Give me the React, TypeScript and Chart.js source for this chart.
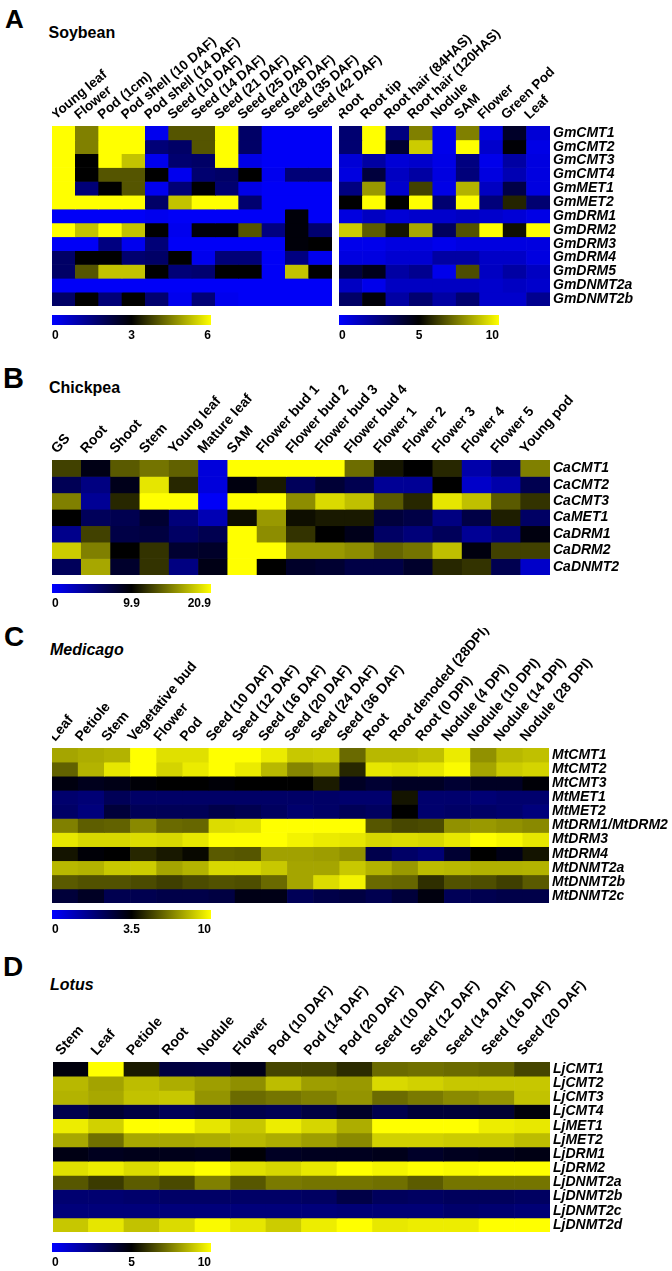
import React, { useEffect, useRef } from 'react';
import { Chart, registerables } from 'chart.js';

Chart.register(...registerables);

const FONT = '"Liberation Sans", Arial, Helvetica, sans-serif';

// ---------- Panel A: Soybean ----------
const soyTissuesLeft = ['Young leaf', 'Flower', 'Pod (1cm)', 'Pod shell (10 DAF)', 'Pod shell (14 DAF)', 'Seed (10 DAF)', 'Seed (14 DAF)', 'Seed (21 DAF)', 'Seed (25 DAF)', 'Seed (28 DAF)', 'Seed (35 DAF)', 'Seed (42 DAF)'];
const soyTissuesRight = ['Root', 'Root tip', 'Root hair (84HAS)', 'Root hair (120HAS)', 'Nodule', 'SAM', 'Flower', 'Green Pod', 'Leaf'];
const soyGenes = ['GmCMT1', 'GmCMT2', 'GmCMT3', 'GmCMT4', 'GmMET1', 'GmMET2', 'GmDRM1', 'GmDRM2', 'GmDRM3', 'GmDRM4', 'GmDRM5', 'GmDNMT2a', 'GmDNMT2b'];
const soyRangeLeft = [0, 3, 6];
const soyScaleLeft = ['0', '3', '6'];
const soyRangeRight = [0, 5, 10];
const soyScaleRight = ['0', '5', '10'];
const soyValuesLeft = [
  [6, 4.5, 6, 6, 0.2, 4.0, 4.0, 6, 1.8, 0.1, 0.1, 0.1],
  [6, 4.5, 6, 6, 1.6, 1.8, 4.0, 6, 1.8, 0.1, 0.1, 0.1],
  [6, 3.0, 6, 5.3, 0.2, 1.7, 1.8, 6, 0.3, 0.1, 0.1, 0.1],
  [6, 3.0, 4.0, 4.0, 3.0, 0.2, 1.7, 1.8, 3.0, 0.2, 1.6, 1.6],
  [6, 1.6, 3.0, 4.0, 0.2, 1.6, 3.0, 1.7, 0.3, 0.1, 0.1, 0.1],
  [6, 6, 6, 6, 1.8, 5.3, 6, 6, 1.7, 0.1, 0.1, 0.1],
  [0.1, 0.1, 0.1, 0.1, 0.2, 0.1, 0.1, 0.1, 0.1, 0.1, 2.9, 0.1],
  [6, 5.3, 6, 5.3, 3.0, 0.2, 2.9, 2.9, 4.0, 1.5, 2.9, 1.7],
  [0.1, 0.1, 1.5, 0.2, 1.6, 0.1, 0.1, 0.1, 0.1, 0.1, 2.9, 3.0],
  [1.8, 3.0, 3.0, 1.7, 1.8, 3.0, 0.2, 1.6, 1.6, 0.1, 1.5, 0.2],
  [1.8, 4.0, 5.3, 5.3, 3.0, 1.6, 1.7, 3.0, 3.0, 0.1, 5.3, 3.0],
  [0.1, 0.1, 0.1, 0.1, 0.1, 0.1, 0.1, 0.1, 0.1, 0.1, 0.1, 0.1],
  [1.8, 3.0, 1.6, 3.0, 1.7, 0.2, 1.6, 0.2, 0.1, 0.1, 0.1, 0.1],
];
const soyValuesRight = [
  [2.8, 10, 2.5, 7.5, 0.4, 7.5, 0.6, 4.2, 0.8],
  [2.8, 10, 4.0, 9.0, 0.4, 10, 1.0, 4.9, 0.5],
  [0.8, 1.8, 0.8, 1.0, 0.5, 2.5, 0.4, 1.8, 0.6],
  [0.6, 3.8, 1.2, 1.8, 0.6, 2.6, 0.6, 1.5, 0.6],
  [2.5, 8.0, 1.0, 6.3, 0.5, 8.5, 1.2, 3.6, 0.6],
  [5.0, 10, 5.0, 10, 2.8, 10, 2.6, 5.7, 2.8],
  [0.6, 1.2, 0.8, 1.0, 1.0, 1.2, 1.0, 0.8, 0.5],
  [9.0, 6.8, 5.4, 8.3, 3.2, 6.6, 10, 5.3, 10],
  [0.4, 0.4, 0.6, 0.6, 0.4, 0.6, 0.6, 0.6, 0.6],
  [0.6, 0.6, 0.9, 0.9, 1.8, 1.8, 1.1, 1.1, 0.6],
  [3.8, 4.5, 1.8, 2.2, 0.4, 6.5, 1.2, 1.8, 1.2],
  [1.2, 0.4, 1.2, 1.2, 1.2, 1.2, 1.0, 1.2, 1.0],
  [3.0, 4.8, 1.8, 2.8, 1.8, 2.8, 1.0, 1.0, 2.2],
];

// ---------- Panel B: Chickpea ----------
const chickTissues = ['GS', 'Root', 'Shoot', 'Stem', 'Young leaf', 'Mature leaf', 'SAM', 'Flower bud 1', 'Flower bud 2', 'Flower bud 3', 'Flower bud 4', 'Flower 1', 'Flower 2', 'Flower 3', 'Flower 4', 'Flower 5', 'Young pod'];
const chickGenes = ['CaCMT1', 'CaCMT2', 'CaCMT3', 'CaMET1', 'CaDRM1', 'CaDRM2', 'CaDNMT2'];
const chickRange = [0, 9.9, 20.9];
const chickScale = ['0', '9.9', '20.9'];
const chickValues = [
  [12.7, 9.1, 13.8, 14.9, 14.1, 1.4, 20.9, 20.9, 20.9, 20.9, 14.6, 10.8, 9.9, 11.6, 3.3, 5.6, 15.4],
  [6.6, 4.9, 8.9, 19.8, 11.6, 1.4, 9.3, 11.0, 6.4, 7.8, 6.8, 4.1, 4.1, 9.9, 2.1, 3.3, 6.8],
  [15.4, 4.1, 11.6, 20.9, 20.9, 0.3, 20.9, 20.9, 16.0, 19.3, 18.2, 13.8, 11.6, 19.8, 18.2, 13.8, 12.1],
  [9.9, 6.4, 6.8, 8.0, 5.2, 2.9, 10.5, 16.5, 10.5, 11.0, 11.0, 7.6, 7.2, 4.9, 7.2, 11.2, 6.0],
  [4.5, 12.7, 7.2, 7.4, 6.0, 6.8, 20.9, 16.0, 12.1, 9.9, 8.9, 6.0, 5.2, 6.4, 4.1, 5.2, 9.3],
  [18.7, 15.4, 9.9, 12.1, 8.0, 8.3, 20.9, 20.9, 16.5, 16.5, 16.0, 14.3, 14.9, 18.2, 9.3, 12.7, 12.7],
  [6.4, 17.1, 8.2, 12.1, 4.9, 9.1, 20.9, 9.9, 8.3, 8.0, 7.2, 7.2, 8.2, 11.6, 12.1, 6.8, 2.1],
];

// ---------- Panel C: Medicago ----------
const medTissues = ['Leaf', 'Petiole', 'Stem', 'Vegetative bud', 'Flower', 'Pod', 'Seed (10 DAF)', 'Seed (12 DAF)', 'Seed (16 DAF)', 'Seed (20 DAF)', 'Seed (24 DAF)', 'Seed (36 DAF)', 'Root', 'Root denoded (28DPI)', 'Root (0 DPI)', 'Nodule (4 DPI)', 'Nodule (10 DPI)', 'Nodule (14 DPI)', 'Nodule (28 DPI)'];
const medGenes = ['MtCMT1', 'MtCMT2', 'MtCMT3', 'MtMET1', 'MtMET2', 'MtDRM1/MtDRM2', 'MtDRM3', 'MtDRM4', 'MtDNMT2a', 'MtDNMT2b', 'MtDNMT2c'];
const medRange = [0, 3.5, 10];
const medScale = ['0', '3.5', '10'];
const medValues = [
  [7.7, 7.9, 8.05, 10, 9.2, 9.2, 10, 10, 9.5, 8.6, 8.7, 6.2, 8.2, 8.2, 8.4, 9.5, 7.2, 8.2, 8.4],
  [6.0, 8.05, 9.4, 10, 8.9, 9.5, 10, 9.5, 8.2, 6.9, 7.4, 4.5, 9.4, 9.2, 9.4, 9.9, 7.7, 8.7, 8.9],
  [3.3, 3.1, 3.2, 3.4, 3.5, 3.5, 3.4, 3.5, 3.5, 3.5, 4.2, 3.0, 2.8, 3.0, 3.0, 2.8, 3.0, 3.0, 3.4],
  [2.0, 1.9, 2.3, 2.1, 2.1, 2.1, 2.1, 2.1, 2.1, 2.1, 2.1, 2.0, 2.0, 4.0, 2.0, 2.0, 1.9, 2.0, 2.0],
  [2.1, 1.8, 2.7, 2.3, 2.3, 2.3, 2.5, 2.4, 2.2, 2.0, 2.1, 2.3, 2.2, 3.5, 2.0, 2.1, 2.1, 2.0, 1.8],
  [6.75, 5.9, 6.0, 7.0, 6.2, 6.1, 9.1, 9.2, 10, 10, 10, 10, 5.7, 5.3, 5.4, 7.2, 7.4, 7.2, 7.0],
  [9.4, 9.0, 9.0, 9.1, 9.0, 9.4, 10, 10, 10, 9.7, 9.5, 9.4, 9.0, 9.1, 9.0, 9.4, 10, 9.8, 9.4],
  [4.0, 3.4, 3.5, 4.5, 4.1, 3.7, 5.8, 5.7, 7.6, 7.6, 7.5, 7.2, 2.45, 2.1, 1.9, 2.8, 3.5, 3.2, 4.0],
  [8.2, 8.05, 8.6, 8.7, 7.7, 8.05, 9.0, 9.0, 8.6, 7.7, 7.7, 8.6, 8.05, 7.4, 8.3, 8.2, 8.0, 8.0, 8.05],
  [5.8, 5.6, 5.6, 5.4, 5.1, 5.4, 5.6, 5.5, 6.2, 7.7, 9.1, 9.7, 6.2, 6.1, 4.7, 5.6, 5.5, 5.1, 5.8],
  [2.7, 3.0, 2.4, 2.4, 2.5, 2.5, 2.6, 3.2, 3.2, 2.3, 2.5, 2.6, 2.4, 2.7, 3.3, 2.3, 2.4, 2.5, 2.5],
];

// ---------- Panel D: Lotus ----------
const lotusTissues = ['Stem', 'Leaf', 'Petiole', 'Root', 'Nodule', 'Flower', 'Pod (10 DAF)', 'Pod (14 DAF)', 'Pod (20 DAF)', 'Seed (10 DAF)', 'Seed (12 DAF)', 'Seed (14 DAF)', 'Seed (16 DAF)', 'Seed (20 DAF)'];
const lotusGenes = ['LjCMT1', 'LjCMT2', 'LjCMT3', 'LjCMT4', 'LjMET1', 'LjMET2', 'LjDRM1', 'LjDRM2', 'LjDNMT2a', 'LjDNMT2b', 'LjDNMT2c', 'LjDNMT2d'];
const lotusRange = [0, 5, 10];
const lotusScale = ['0', '5', '10'];
const lotusValues = [
  [4.75, 10, 5.5, 3.75, 3.7, 4.5, 6.35, 6.35, 5.85, 7.1, 7.2, 7.1, 7.0, 6.35],
  [8.6, 8.2, 8.7, 8.4, 8.1, 7.8, 8.7, 8.1, 8.0, 9.25, 9.1, 8.9, 8.9, 8.9],
  [8.5, 8.3, 8.8, 8.9, 7.9, 7.1, 7.3, 7.5, 7.9, 7.1, 7.4, 7.7, 7.9, 8.8],
  [3.5, 4.0, 3.7, 3.3, 3.5, 3.5, 3.35, 3.7, 4.2, 3.5, 3.9, 3.9, 4.0, 4.8],
  [9.65, 9.1, 10, 10, 9.5, 8.9, 9.65, 9.2, 8.4, 10, 10, 10, 9.65, 9.55],
  [8.3, 7.2, 8.3, 8.3, 8.4, 8.6, 8.4, 8.1, 7.7, 9.1, 9.1, 9.0, 9.0, 8.7],
  [4.6, 4.4, 4.5, 4.5, 4.4, 4.9, 4.3, 4.4, 4.4, 4.5, 4.2, 4.4, 4.5, 4.6],
  [9.4, 9.65, 9.3, 9.75, 10, 9.4, 9.2, 9.55, 10, 9.8, 10, 9.9, 10, 10],
  [6.7, 6.15, 6.8, 6.45, 7.5, 6.7, 7.4, 7.3, 7.3, 7.2, 6.8, 7.3, 7.3, 7.3],
  [2.8, 2.8, 2.9, 3.0, 3.0, 3.0, 3.0, 3.1, 3.6, 3.2, 3.1, 3.2, 3.2, 3.1],
  [2.6, 2.6, 2.6, 2.6, 2.6, 2.6, 2.6, 2.6, 2.7, 2.7, 2.7, 2.9, 2.8, 2.7],
  [8.9, 9.5, 8.8, 9.3, 9.9, 9.5, 9.0, 9.65, 10, 9.55, 9.65, 9.65, 10, 10],
];

// blue -> black -> yellow colour map
function heatColor(v: number, lo: number, mid: number, hi: number): string {
  if (v <= mid) {
    const s = Math.max(0, Math.min(1, (mid - v) / (mid - lo)));
    return `rgb(0,0,${Math.round(255 * s)})`;
  }
  const s = Math.max(0, Math.min(1, (v - mid) / (hi - mid)));
  const c = Math.round(255 * s);
  return `rgb(${c},${c},0)`;
}

type HeatProps = {
  columns: string[];
  genes: string[];
  values: number[][];
  range: number[];
  left: number;
  top: number;
  width: number;
  height: number;
  labelHeight: number;
  rightWidth: number;
  rotation: number;
  colFont: number;
  showGenes: boolean;
};

function Heatmap(p: HeatProps) {
  const ref = useRef<HTMLCanvasElement>(null);
  useEffect(() => {
    const [lo, mid, hi] = p.range;
    const n = p.genes.length;
    const chart = new Chart(ref.current as HTMLCanvasElement, {
      type: 'bar',
      data: {
        labels: p.columns,
        datasets: p.values.map((row, r) => ({
          label: p.genes[r],
          data: row.map(() => [r, r + 1]),
          backgroundColor: row.map((v) => heatColor(v, lo, mid, hi)),
          borderWidth: 0,
          grouped: false,
          barPercentage: 1,
          categoryPercentage: 1,
        })),
      } as any,
      options: {
        responsive: false,
        animation: false,
        events: [],
        layout: { padding: 0 },
        plugins: { legend: { display: false }, tooltip: { enabled: false } },
        scales: {
          x: {
            type: 'category',
            position: 'top',
            offset: true,
            grid: { display: false, drawTicks: false },
            border: { display: false },
            ticks: {
              autoSkip: false,
              minRotation: p.rotation,
              maxRotation: p.rotation,
              padding: 3,
              color: '#000',
              font: { family: FONT, size: p.colFont, weight: 'bold' },
            },
            afterFit: (s: any) => {
              s.height = p.labelHeight;
              s.paddingLeft = 0;
              s.paddingRight = 0;
            },
          },
          y: { type: 'linear', display: false, min: 0, max: n, reverse: true },
          y2: {
            type: 'category',
            position: 'right',
            labels: p.genes,
            offset: true,
            grid: { display: false, drawTicks: false },
            border: { display: false },
            ticks: {
              display: p.showGenes,
              autoSkip: false,
              padding: 3,
              color: '#000',
              font: { family: FONT, size: 14, weight: 'bold', style: 'italic' },
            },
            afterFit: (s: any) => {
              s.width = p.rightWidth;
              s.paddingTop = 0;
              s.paddingBottom = 0;
            },
          },
        },
      } as any,
    });
    return () => chart.destroy();
  }, []);
  const w = p.width + p.rightWidth;
  const h = p.height + p.labelHeight;
  return (
    <canvas
      ref={ref}
      width={w}
      height={h}
      style={{ position: 'absolute', left: p.left, top: p.top - p.labelHeight, width: w, height: h }}
    />
  );
}

type BarProps = { left: number; top: number; width: number; barHeight: number; labels: string[] };

function ColorBar(p: BarProps) {
  const ref = useRef<HTMLCanvasElement>(null);
  const labelArea = 16;
  useEffect(() => {
    const last = p.labels.length - 1;
    const chart = new Chart(ref.current as HTMLCanvasElement, {
      type: 'bar',
      data: {
        labels: ['scale'],
        datasets: [
          {
            data: [[0, last]],
            backgroundColor: (ctx: any) => {
              const ca = ctx.chart.chartArea;
              if (!ca) return '#000';
              const g = ctx.chart.ctx.createLinearGradient(ca.left, 0, ca.right, 0);
              g.addColorStop(0, 'rgb(0,0,255)');
              g.addColorStop(0.5, 'rgb(0,0,0)');
              g.addColorStop(1, 'rgb(255,255,0)');
              return g;
            },
            borderWidth: 0,
            barPercentage: 1,
            categoryPercentage: 1,
          },
        ],
      } as any,
      options: {
        indexAxis: 'y',
        responsive: false,
        animation: false,
        events: [],
        layout: { padding: 0 },
        plugins: { legend: { display: false }, tooltip: { enabled: false } },
        scales: {
          y: { display: false },
          x: {
            type: 'linear',
            min: 0,
            max: last,
            position: 'bottom',
            grid: { display: false, drawTicks: false },
            border: { display: false },
            afterBuildTicks: (s: any) => {
              s.ticks = p.labels.map((_, i) => ({ value: i }));
            },
            ticks: {
              align: 'inner',
              padding: 3,
              color: '#000',
              font: { family: FONT, size: 12, weight: 'bold' },
              callback: (v: any) => p.labels[v],
            },
            afterFit: (s: any) => {
              s.height = labelArea;
              s.paddingLeft = 0;
              s.paddingRight = 0;
            },
          },
        },
      } as any,
    });
    return () => chart.destroy();
  }, []);
  const h = p.barHeight + labelArea;
  return (
    <canvas
      ref={ref}
      width={p.width}
      height={h}
      style={{ position: 'absolute', left: p.left, top: p.top, width: p.width, height: h }}
    />
  );
}

function Txt(props: { x: number; y: number; size: number; italic?: boolean; children: React.ReactNode }) {
  return (
    <div
      style={{
        position: 'absolute',
        left: props.x,
        top: props.y,
        fontFamily: FONT,
        fontSize: props.size,
        fontWeight: 'bold',
        fontStyle: props.italic ? 'italic' : 'normal',
        lineHeight: 1,
        whiteSpace: 'nowrap',
        color: '#000',
      }}
    >
      {props.children}
    </div>
  );
}

export default function App() {
  return (
    <div style={{ position: 'absolute', left: 0, top: 0, width: 672, height: 1271, background: '#fff', overflow: 'hidden' }}>
      <Txt x={5} y={6} size={26}>A</Txt>
      <Txt x={48.5} y={24.5} size={16}>Soybean</Txt>
      <Heatmap columns={soyTissuesLeft} genes={soyGenes} values={soyValuesLeft} range={soyRangeLeft}
        left={52} top={126} width={280} height={180} labelHeight={100} rightWidth={80} rotation={40} colFont={13.5} showGenes={false} />
      <Heatmap columns={soyTissuesRight} genes={soyGenes} values={soyValuesRight} range={soyRangeRight}
        left={339} top={126} width={211} height={180} labelHeight={100} rightWidth={122} rotation={44} colFont={13.5} showGenes={true} />
      <ColorBar left={52} top={315} width={159} barHeight={10} labels={soyScaleLeft} />
      <ColorBar left={339} top={315} width={160} barHeight={10} labels={soyScaleRight} />

      <Txt x={3} y={364} size={29}>B</Txt>
      <Txt x={49} y={380} size={16}>Chickpea</Txt>
      <Heatmap columns={chickTissues} genes={chickGenes} values={chickValues} range={chickRange}
        left={52} top={460} width={498} height={115} labelHeight={95} rightWidth={122} rotation={48} colFont={14} showGenes={true} />
      <ColorBar left={52} top={584} width={159} barHeight={9} labels={chickScale} />

      <Txt x={4} y={623} size={28}>C</Txt>
      <Txt x={50} y={642} size={16} italic>Medicago</Txt>
      <Heatmap columns={medTissues} genes={medGenes} values={medValues} range={medRange}
        left={52} top={748} width={497} height={155} labelHeight={120} rightWidth={123} rotation={50} colFont={14} showGenes={true} />
      <ColorBar left={52} top={910} width={159} barHeight={9} labels={medScale} />

      <Txt x={3} y={953} size={28}>D</Txt>
      <Txt x={50} y={976.5} size={16} italic>Lotus</Txt>
      <Heatmap columns={lotusTissues} genes={lotusGenes} values={lotusValues} range={lotusRange}
        left={53} top={1062} width={497} height={170} labelHeight={100} rightWidth={122} rotation={48} colFont={14} showGenes={true} />
      <ColorBar left={52} top={1243} width={159} barHeight={9} labels={lotusScale} />
    </div>
  );
}
